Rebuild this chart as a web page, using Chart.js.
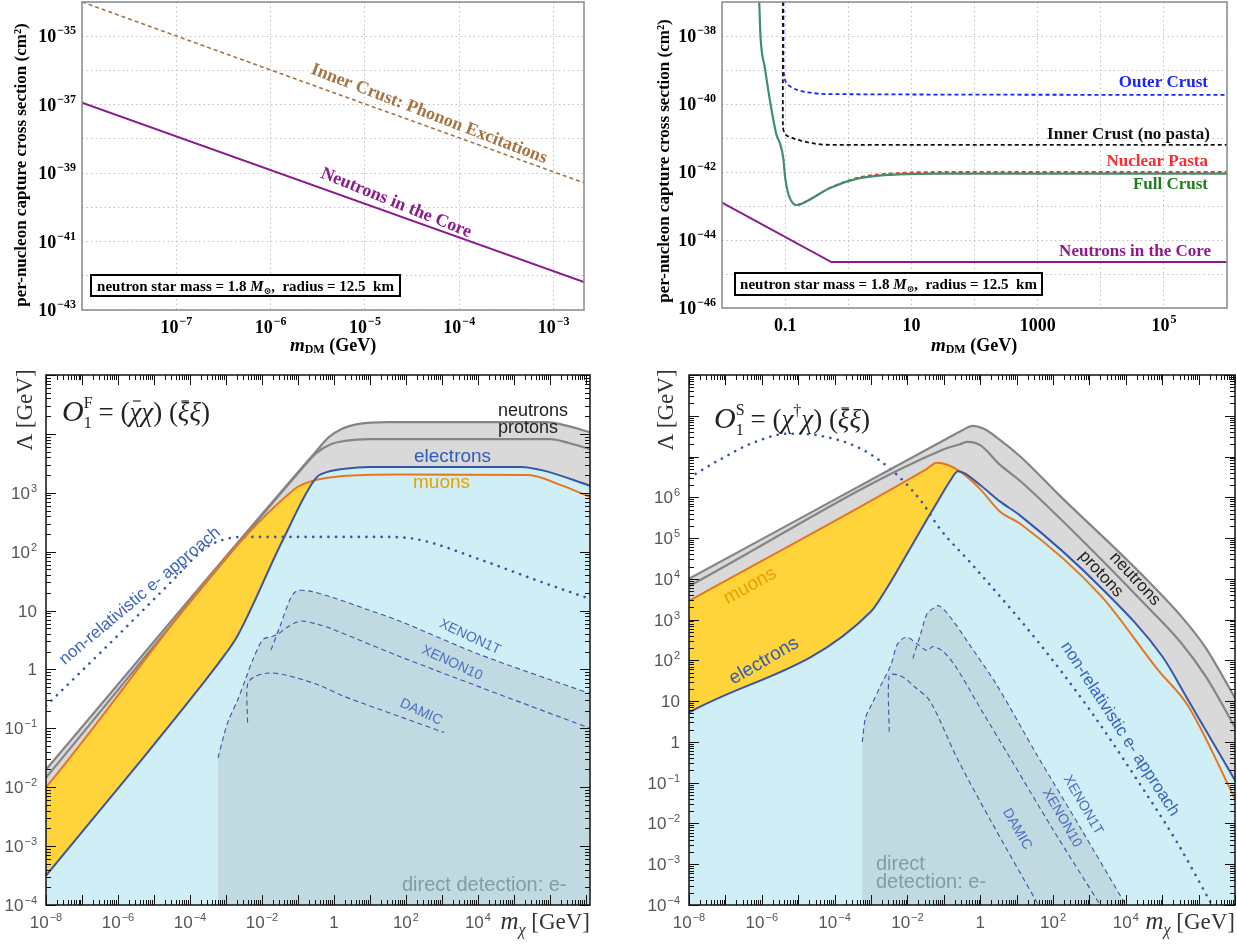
<!DOCTYPE html>
<html>
<head>
<meta charset="utf-8">
<title>Dark matter capture and EFT bounds</title>
<script src="https://cdn.jsdelivr.net/npm/chart.js@4.4.1/dist/chart.umd.min.js"></script>
<style>
  html, body { margin: 0; padding: 0; background: #fff; }
  body { position: relative; width: 1237px; height: 946px; overflow: hidden; }
  canvas { position: absolute; }
</style>
</head>
<body>
<canvas id="panel-a" width="600" height="360" style="left:0;top:0"></canvas>
<canvas id="panel-b" width="617" height="360" style="left:620px;top:0"></canvas>
<canvas id="panel-c" width="620" height="586" style="left:0;top:360px"></canvas>
<canvas id="panel-d" width="617" height="586" style="left:620px;top:360px"></canvas>
<script>
"use strict";

// Top left: per-nucleon cross section, light DM ------------------------------
const aMass = [1e-8, 2.1e-3];
const aCoreXs = [1.15e-37, 6.6e-43];
const aPhononXs = [1e-34, 5.2e-40];
const aXTicks = [1e-8, 1e-7, 1e-6, 1e-5, 1e-4, 1e-3];
const aXLabels = ["", "10⁻⁷", "10⁻⁶", "10⁻⁵", "10⁻⁴", "10⁻³"];
const aYTicks = [1e-43, 1e-42, 1e-41, 1e-40, 1e-39, 1e-38, 1e-37, 1e-36, 1e-35, 1e-34];
const aYLabels = ["10⁻⁴³", "", "10⁻⁴¹", "", "10⁻³⁹", "", "10⁻³⁷", "", "10⁻³⁵", ""];

// Top right: crust layers vs core --------------------------------------------
const bCoreMass = [0.01, 0.54, 1e6];
const bCoreXs = [1.26e-43, 2.24e-45, 2.24e-45];
const bOuterMass = [0.094, 0.094, 0.096, 0.1, 0.107, 0.12, 0.155, 0.25, 0.51, 1e6];
const bOuterXs = [1e-37, 1e-39, 7e-40, 5e-40, 4e-40, 3.3e-40, 2.6e-40, 2.15e-40, 1.95e-40, 1.86e-40];
const bInnerMass = [0.092, 0.092, 0.095, 0.1, 0.12, 0.25, 0.51, 3.2, 1e6];
const bInnerXs = [1e-37, 2e-41, 1.6e-41, 1.3e-41, 1.07e-41, 7.2e-42, 6.3e-42, 6.3e-42, 6.3e-42];
const bPastaMass = [0.155, 0.224, 0.513, 1.51, 6.3, 31.6, 1e6];
const bPastaXs = [1.07e-43, 1.41e-43, 3.4e-43, 7e-43, 9.3e-43, 1e-42, 1e-42];
const bFullMass = [0.0389, 0.0407, 0.0479, 0.0575, 0.0724, 0.0832, 0.0933, 0.1, 0.112, 0.135, 0.155, 0.224, 0.513, 1.51, 6.3, 31.6, 1e6];
const bFullXs = [1e-37, 1e-38, 1.12e-39, 1.26e-40, 1.32e-41, 6.8e-42, 2.63e-42, 6.9e-43, 2.34e-43, 1.17e-43, 1.07e-43, 1.41e-43, 3.4e-43, 6.6e-43, 8.5e-43, 8.9e-43, 8.9e-43];
const bXTicks = [0.01, 0.1, 1, 10, 100, 1000, 1e4, 1e5, 1e6];
const bXLabels = ["", "0.1", "", "10", "", "1000", "", "10⁵", ""];
const bYTicks = [1e-46, 1e-45, 1e-44, 1e-43, 1e-42, 1e-41, 1e-40, 1e-39, 1e-38, 1e-37];
const bYLabels = ["10⁻⁴⁶", "", "10⁻⁴⁴", "", "10⁻⁴²", "", "10⁻⁴⁰", "", "10⁻³⁸", ""];

// Bottom left: fermion operator ------------------------------------------------
const cNeutronMass = [1e-8, 0.316, 0.708, 1.585, 5.01, 31.6, 7.94e5, 2.51e6, 1.3e7];
const cNeutronScale = [0.02, 5010, 8710, 1.2e4, 1.48e4, 1.585e4, 1.585e4, 1.41e4, 1.07e4];
const cProtonMass = [1e-8, 0.158, 0.316, 0.794, 2.0, 10, 1e6, 3.16e6, 1.3e7];
const cProtonScale = [0.0145, 2950, 4680, 6610, 7590, 8130, 8130, 7080, 5500];
const cElectronMass = [1e-8, 5.01e-6, 1.9e-4, 9.33e-4, 2.04e-3, 0.038, 0.316, 0.631, 2.0, 10, 1.585e5, 6.31e5, 1.3e7];
const cElectronScale = [3.16e-4, 0.0316, 0.501, 1.78, 3.63, 158, 1780, 2240, 2570, 2750, 2750, 2400, 1320];
const cMuonMass = [1e-8, 0.0794, 0.251, 1.585, 63.1, 2.51e5, 2.0e6, 1.3e7];
const cMuonScale = [0.01, 1150, 1585, 1905, 2040, 2000, 1350, 851];
const cNonRelMass = [1e-8, 1e-6, 3.16e-5, 2.51e-4, 7.94e-4, 3.16e-3, 31.6, 251, 1e4, 5.01e5, 1.3e7];
const cNonRelScale = [0.24, 3.8, 31.6, 112, 158, 178, 178, 158, 75.9, 31.6, 15.8];
const cXe1tMass = [0.0178, 0.0316, 0.0603, 0.0912, 0.214, 0.933, 8.13, 67.6, 1.15e4, 1.3e7];
const cXe1tScale = [2.14, 5.37, 15.5, 21.4, 21.4, 16.6, 10.5, 6.61, 1.78, 0.389];
const cXe10Mass = [6.03e-4, 8.91e-4, 1.15e-3, 2.14e-3, 3.55e-3, 5.62e-3, 0.0107, 0.0191, 0.0282, 0.049, 0.115, 0.339, 0.933, 67.6, 1.15e4, 1.3e7];
const cXe10Scale = [0.0316, 0.0794, 0.132, 0.309, 0.708, 1.48, 3.24, 3.63, 3.98, 5.13, 6.61, 5.89, 4.79, 1.66, 0.501, 0.1];
const cDamicMass = [3.98e-3, 3.98e-3, 6.31e-3, 0.0158, 0.0501, 0.398, 1.78, 67.6, 1150];
const cDamicScale = [0.126, 0.562, 0.759, 0.871, 0.794, 0.537, 0.355, 0.158, 0.0851];
const cReachMass = [6.03e-4, 6.03e-4, 8.91e-4, 1.15e-3, 2.14e-3, 3.55e-3, 5.62e-3, 0.0107, 0.0191, 0.0316, 0.0603, 0.0912, 0.214, 0.933, 8.13, 67.6, 1.15e4, 1.3e7];
const cReachScale = [1e-4, 0.0316, 0.0794, 0.132, 0.309, 0.708, 1.48, 3.24, 3.63, 5.37, 15.5, 21.4, 21.4, 16.6, 10.5, 6.61, 1.78, 0.389];
const cXTicks = [1e-8, 1e-6, 1e-4, 1e-2, 1, 1e2, 1e4];
const cXLabels = ["10⁻⁸", "10⁻⁶", "10⁻⁴", "10⁻²", "1", "10²", "10⁴"];
const cYTicks = [1e-4, 1e-3, 1e-2, 1e-1, 1, 10, 100, 1000];
const cYLabels = ["10⁻⁴", "10⁻³", "10⁻²", "10⁻¹", "1", "10", "10²", "10³"];

// Bottom right: scalar operator ------------------------------------------------
const dNeutronMass = [1e-8, 0.1, 0.316, 0.631, 1.26, 3.47, 12.6, 158, 2.51e4, 3.98e5, 1.585e6, 1e7];
const dNeutronScale = [1e4, 2.51e7, 4.37e7, 5.62e7, 4.79e7, 2.57e7, 1e7, 1.07e6, 1.38e4, 1000, 200, 12];
const dProtonMass = [1e-8, 0.1, 0.282, 0.437, 1, 3.47, 12.6, 1995, 3.16e4, 3.16e5, 1.585e6, 1e7];
const dProtonScale = [6610, 1.51e7, 2e7, 2.29e7, 1.9e7, 6.31e6, 2.51e6, 3.16e4, 2510, 282, 39.8, 2.29];
const dElectronMass = [1e-8, 1e-3, 2.51e-3, 6.31e-3, 0.0347, 0.0794, 0.148, 0.245, 0.355, 1, 3.47, 12.6, 1995, 1e5, 5.01e5, 1e7];
const dElectronScale = [5.25, 1585, 5250, 2.09e4, 2.88e5, 1e6, 2.51e6, 4.37e6, 3.98e6, 2e6, 7.94e5, 3.55e5, 6310, 126, 11.2, 0.115];
const dMuonMass = [1e-8, 0.0316, 0.0646, 0.126, 0.316, 1, 3.47, 12.6, 1995, 7.94e4, 5.01e5, 1e7];
const dMuonScale = [2880, 4.79e6, 7.08e6, 6.31e6, 3.98e6, 1.585e6, 4.47e5, 2.24e5, 3980, 56.2, 7.94, 0.0407];
const dNonRelMass = [1e-8, 7.24e-8, 5.5e-7, 5.37e-6, 3.98e-5, 5.01e-4, 3.8e-3, 0.0224, 0.0794, 0.525, 36.3, 1000, 2.51e4, 2.51e5, 2.34e6];
const dNonRelScale = [3.02e6, 8.51e6, 2.14e7, 3.63e7, 3.24e7, 1.585e7, 4.57e6, 8.71e5, 1.66e5, 2.57e4, 309, 6.31, 0.0891, 3.55e-3, 1e-4];
const dXe1tMass = [0.0141, 0.0224, 0.0347, 0.0501, 0.0741, 0.148, 0.525, 2.88, 36.3, 562, 1e4];
const dXe1tScale = [112, 407, 1413, 1862, 2188, 1175, 234, 24.5, 0.479, 7.94e-3, 1e-4];
const dXe10Mass = [5.75e-4, 7.08e-4, 1.07e-3, 1.78e-3, 3.55e-3, 5.13e-3, 7.59e-3, 0.0105, 0.0182, 0.0347, 0.0501, 0.0955, 0.229, 1, 6.61, 100, 1995];
const dXe10Scale = [1, 3.98, 8.71, 22.4, 79.4, 234, 347, 363, 257, 174, 219, 166, 63.1, 6.76, 0.407, 7.08e-3, 1e-4];
const dDamicMass = [3.16e-3, 3.16e-3, 5.13e-3, 8.91e-3, 0.0141, 0.0417, 0.229, 2.0, 39.8];
const dDamicScale = [1.78, 42.7, 44.7, 35.5, 24.5, 10, 0.407, 0.0112, 1e-4];
const dReachMass = [5.75e-4, 5.75e-4, 7.08e-4, 1.07e-3, 1.78e-3, 3.55e-3, 5.13e-3, 7.59e-3, 0.0105, 0.0182, 0.0224, 0.0347, 0.0501, 0.0741, 0.148, 0.525, 2.88, 36.3, 562, 1e4];
const dReachScale = [1e-4, 1, 3.98, 8.71, 22.4, 79.4, 234, 347, 363, 257, 407, 1413, 1862, 2188, 1175, 234, 24.5, 0.479, 7.94e-3, 1e-4];
const dXTicks = cXTicks;
const dXLabels = cXLabels;
const dYTicks = [1e-4, 1e-3, 1e-2, 1e-1, 1, 10, 100, 1000, 1e4, 1e5, 1e6];
const dYLabels = ["10⁻⁴", "10⁻³", "10⁻²", "10⁻¹", "1", "10", "10²", "10³", "10⁴", "10⁵", "10⁶"];

// Styles ---------------------------------------------------------------------
const SERIF = '"Liberation Serif", "DejaVu Serif", serif';
const SANS = '"Liberation Sans", Arial, sans-serif';
const PURPLE = "#8c1a8c";
const BROWN = "#a47444";
const GRAY_FILL = "#d9d9d9";
const GRAY_LINE = "#858585";
const YELLOW = "#ffd43a";
const ORANGE = "#e8761c";
const SKY = "#cfeef6";
const BLUE = "#3b55a6";
const REACH = "#c1d9e0";

Chart.defaults.animation = false;
Chart.defaults.font.family = SANS;

function series(mass, vals, style) {
  return Object.assign({
    data: mass.map((m, i) => ({ x: m, y: vals[i] })),
    pointRadius: 0,
    fill: false,
    cubicInterpolationMode: "monotone",
    borderWidth: 2,
  }, style);
}

function logAxis(o, horizontal) {
  return {
    type: "logarithmic",
    min: o.min,
    max: o.max,
    afterBuildTicks: (s) => { s.ticks = o.ticks.map((v) => ({ value: v })); },
    afterFit: (s) => {
      if (horizontal) s.height = o.size; else s.width = o.size;
      s.paddingTop = s.paddingBottom = s.paddingLeft = s.paddingRight = 0;
    },
    ticks: { display: false, autoSkip: false, maxRotation: 0, minRotation: 0 },
    grid: o.grid
      ? { display: true, color: "#c2c2c2", lineWidth: 1, drawTicks: false }
      : { display: false, drawTicks: false },
    border: { display: false, dash: [1.5, 3] },
  };
}

function options(pad, x, y) {
  return {
    responsive: false,
    animation: false,
    layout: { padding: pad },
    plugins: { legend: { display: false }, tooltip: { enabled: false }, filler: { drawTime: "beforeDatasetsDraw" } },
    scales: { x: logAxis(x, true), y: logAxis(y, false) },
  };
}

// Tick labels: base plus raised exponent, placed with the chart's own scales.
const SUPMAP = { "⁻": "−", "⁰": "0", "¹": "1", "²": "2", "³": "3", "⁴": "4", "⁵": "5", "⁶": "6", "⁷": "7", "⁸": "8", "⁹": "9" };
function splitLabel(s) {
  let base = "", exp = "";
  for (const ch of s) { if (SUPMAP[ch]) exp += SUPMAP[ch]; else base += ch; }
  return [base, exp];
}
function tickLabels(st) {
  return {
    id: "tickLabels",
    afterDraw(chart) {
      const { ctx, chartArea: a, scales } = chart;
      ctx.save();
      ctx.fillStyle = st.color;
      ctx.textBaseline = "alphabetic";
      ctx.textAlign = "left";
      for (const [id, horiz] of [["x", true], ["y", false]]) {
        const sc = scales[id];
        const labels = st[id];
        sc.ticks.forEach((t, i) => {
          const text = labels[i];
          if (!text) return;
          const [base, exp] = splitLabel(text);
          ctx.font = st.big;
          const wb = ctx.measureText(base).width;
          ctx.font = st.small;
          const we = exp ? ctx.measureText(exp).width + 1 : 0;
          const p = sc.getPixelForValue(t.value);
          const w = wb + we;
          const x0 = horiz ? p - w / 2 : a.left - st.yPad - w;
          const yb = horiz ? a.bottom + st.xOff : p + st.yOff;
          ctx.font = st.big;
          ctx.fillText(base, x0, yb);
          if (exp) { ctx.font = st.small; ctx.fillText(exp, x0 + wb + 1, yb - st.rise); }
        });
      }
      ctx.restore();
    },
  };
}
const TOP_TICKS = { big: "bold 18px " + SERIF, small: "bold 12px " + SERIF, rise: 8, color: "#000", xOff: 23, yPad: 6, yOff: 6 };
const BOT_TICKS = { big: "17px " + SANS, small: "11px " + SANS, rise: 7, color: "#555", xOff: 23, yPad: 9, yOff: 6 };

// Text helpers ---------------------------------------------------------------
function rotText(ctx, text, x, y, ang, font, color, align) {
  ctx.save();
  ctx.translate(x, y);
  ctx.rotate(ang * Math.PI / 180);
  ctx.font = font;
  ctx.fillStyle = color;
  ctx.textAlign = align || "center";
  ctx.textBaseline = "middle";
  ctx.fillText(text, 0, 0);
  ctx.restore();
}

// parts: [text, font, dy, noAdvance, overbar]
function rich(ctx, x, y, parts, align, color) {
  ctx.save();
  ctx.textBaseline = "alphabetic";
  ctx.textAlign = "left";
  ctx.fillStyle = color || "#000";
  let w = 0;
  for (const p of parts) { ctx.font = p[1]; if (!p[3]) w += ctx.measureText(p[0]).width; }
  let cx = align === "right" ? x - w : align === "center" ? x - w / 2 : x;
  for (const p of parts) {
    ctx.font = p[1];
    const pw = ctx.measureText(p[0]).width;
    ctx.fillText(p[0], cx, y + (p[2] || 0));
    if (p[4]) {
      ctx.strokeStyle = ctx.fillStyle;
      ctx.lineWidth = 1.2;
      ctx.beginPath();
      ctx.moveTo(cx + pw * 0.3, y - p[4]);
      ctx.lineTo(cx + pw * 0.95, y - p[4]);
      ctx.stroke();
    }
    if (!p[3]) cx += pw;
  }
  ctx.restore();
}

const topFrame = {
  id: "topFrame",
  afterDatasetsDraw(chart) {
    const { ctx, chartArea: a } = chart;
    ctx.save();
    ctx.strokeStyle = "#8a8a8a";
    ctx.lineWidth = 1.5;
    ctx.strokeRect(a.left, a.top, a.width, a.height);
    ctx.restore();
  },
};

const tickFrame = {
  id: "tickFrame",
  afterDatasetsDraw(chart) {
    const { ctx, chartArea: a, scales } = chart;
    const sx = scales.x, sy = scales.y;
    ctx.save();
    ctx.strokeStyle = "#111";
    ctx.lineWidth = 1;
    const seg = (x1, y1, x2, y2) => { ctx.beginPath(); ctx.moveTo(x1, y1); ctx.lineTo(x2, y2); ctx.stroke(); };
    for (let e = Math.floor(Math.log10(sx.min)); e <= Math.ceil(Math.log10(sx.max)); e++) {
      for (let k = 1; k < 10; k++) {
        const v = k * Math.pow(10, e);
        if (v < sx.min * 0.999 || v > sx.max * 1.001) continue;
        const p = Math.round(sx.getPixelForValue(v)) + 0.5;
        const len = k === 1 ? 10 : 5;
        seg(p, a.bottom, p, a.bottom - len);
        seg(p, a.top, p, a.top + len);
      }
    }
    for (let e = Math.floor(Math.log10(sy.min)); e <= Math.ceil(Math.log10(sy.max)); e++) {
      for (let k = 1; k < 10; k++) {
        const v = k * Math.pow(10, e);
        if (v < sy.min * 0.999 || v > sy.max * 1.001) continue;
        const p = Math.round(sy.getPixelForValue(v)) + 0.5;
        const len = k === 1 ? 10 : 5;
        seg(a.left, p, a.left + len, p);
        seg(a.right, p, a.right - len, p);
      }
    }
    ctx.lineWidth = 1.5;
    ctx.strokeRect(a.left, a.top, a.width, a.height);
    ctx.restore();
  },
};

function annotate(id, fn) {
  return { id, afterDraw: (chart) => fn(chart.ctx, chart) };
}

function nsBox(ctx, x, y, w, h) {
  ctx.save();
  ctx.fillStyle = "#fff";
  ctx.fillRect(x, y, w, h);
  ctx.strokeStyle = "#000";
  ctx.lineWidth = 2;
  ctx.strokeRect(x, y, w, h);
  ctx.restore();
  const b = "bold 15px " + SERIF;
  rich(ctx, x + w / 2, y + h / 2 + 5, [
    ["neutron star mass = 1.8 ", b],
    ["M", "bold italic 15px " + SERIF],
    ["⊙", "bold 9px " + SERIF, 3],
    [",  radius = 12.5  km", b],
  ], "center");
}

function topTitles(ctx, yx, yy, xx) {
  rotText(ctx, "per-nucleon capture cross section (cm²)", yx, yy, -90, "bold 17px " + SERIF, "#000");
  rich(ctx, xx, 351, [
    ["m", "bold italic 19px " + SERIF],
    ["DM", "bold 12px " + SERIF, 2],
    [" (GeV)", "bold 18px " + SERIF],
  ], "center");
}

// Panel A --------------------------------------------------------------------
new Chart(document.getElementById("panel-a"), {
  type: "line",
  data: {
    datasets: [
      series(aMass, aCoreXs, { borderColor: PURPLE, borderWidth: 2 }),
      series(aMass, aPhononXs, { borderColor: BROWN, borderWidth: 1.6, borderDash: [4, 3] }),
    ],
  },
  options: options({ left: 0, right: 16, top: 2, bottom: 0 },
    { min: 1e-8, max: 2.1e-3, ticks: aXTicks, size: 50, grid: true },
    { min: 1e-43, max: 1e-34, ticks: aYTicks, size: 82, grid: true }),
  plugins: [topFrame, tickLabels(Object.assign({ x: aXLabels, y: aYLabels }, TOP_TICKS)), annotate("textA", (ctx) => {
    topTitles(ctx, 22, 165, 333);
    rotText(ctx, "Inner Crust: Phonon Excitations", 429, 114, 21, "bold 18px " + SERIF, BROWN);
    rotText(ctx, "Neutrons in the Core", 396, 203, 22, "bold 18px " + SERIF, PURPLE);
    nsBox(ctx, 91, 275, 309, 21);
  })],
});

// Panel B --------------------------------------------------------------------
new Chart(document.getElementById("panel-b"), {
  type: "line",
  data: {
    datasets: [
      series(bFullMass, bFullXs, { borderColor: "#3f8f6c", borderWidth: 2.2 }),
      series(bPastaMass, bPastaXs, { borderColor: "#ff2a2a", borderWidth: 1.8, borderDash: [4, 3] }),
      series(bInnerMass, bInnerXs, { borderColor: "#111", borderWidth: 1.8, borderDash: [4, 3] }),
      series(bOuterMass, bOuterXs, { borderColor: "#1a22ff", borderWidth: 1.8, borderDash: [4, 3] }),
      series(bCoreMass, bCoreXs, { borderColor: PURPLE, borderWidth: 2, cubicInterpolationMode: "default", tension: 0 }),
    ],
  },
  options: options({ left: 0, right: 10, top: 2, bottom: 0 },
    { min: 0.01, max: 1e6, ticks: bXTicks, size: 52, grid: true },
    { min: 1e-46, max: 1e-37, ticks: bYTicks, size: 102, grid: true }),
  plugins: [topFrame, tickLabels(Object.assign({ x: bXLabels, y: bYLabels }, TOP_TICKS)), annotate("textB", (ctx) => {
    topTitles(ctx, 45, 161, 354);
    const f = "bold 17px " + SERIF;
    rotText(ctx, "Outer Crust", 588, 83, 0, f, "#1a22ff", "right");
    rotText(ctx, "Inner Crust (no pasta)", 590, 135, 0, f, "#111", "right");
    rotText(ctx, "Nuclear Pasta", 588, 162, 0, f, "#ff2a2a", "right");
    rotText(ctx, "Full Crust", 588, 185, 0, f, "#1f7f1f", "right");
    rotText(ctx, "Neutrons in the Core", 591, 252, 0, f, PURPLE, "right");
    nsBox(ctx, 115, 273, 307, 22);
  })],
});

// Bottom panels ----------------------------------------------------------------
function eftDatasets(p) {
  return [
    series(p.reachM, p.reachL, { borderWidth: 0, borderColor: "rgba(0,0,0,0)", backgroundColor: REACH, fill: "start", cubicInterpolationMode: "default", tension: 0.25 }),
    series(p.eM, p.eL, { borderColor: BLUE, borderWidth: 2, backgroundColor: SKY, fill: "start" }),
    series(p.muM, p.muL, { borderColor: ORANGE, borderWidth: 2, backgroundColor: YELLOW, fill: "start" }),
    series(p.nM, p.nL, { borderColor: GRAY_LINE, borderWidth: 2.2, backgroundColor: GRAY_FILL, fill: "start" }),
    series(p.pM, p.pL, { borderColor: GRAY_LINE, borderWidth: 2.2 }),
    series(p.x1M, p.x1L, { borderColor: BLUE, borderWidth: 1.1, borderDash: [5, 3.5], cubicInterpolationMode: "default", tension: 0.3 }),
    series(p.x10M, p.x10L, { borderColor: BLUE, borderWidth: 1.1, borderDash: [5, 3.5], cubicInterpolationMode: "default", tension: 0.3 }),
    series(p.dmM, p.dmL, { borderColor: BLUE, borderWidth: 1.1, borderDash: [5, 3.5], cubicInterpolationMode: "default", tension: 0.3 }),
    series(p.nrM, p.nrL, { borderColor: BLUE, borderWidth: 2.6, borderDash: [0.1, 7.5], borderCapStyle: "round" }),
  ];
}

function bottomTitles(ctx, lx, right) {
  rotText(ctx, "Λ [GeV]", lx, 50, -90, "23px " + SERIF, "#333");
  rich(ctx, right, 569, [
    ["m", "italic 25px " + SERIF],
    ["χ", "italic 16px " + SERIF, 6],
    [" [GeV]", "23px " + SERIF],
  ], "right", "#333");
}

function formula(ctx, x, y, letter, lhsInner) {
  const big = "27px " + SERIF, it = "italic 27px " + SERIF, sm = "16px " + SERIF;
  const parts = [
    ["O", "italic 30px " + SERIF],
    [letter, sm, -13, true],
    ["1", sm, 7],
    [" = (", big],
  ].concat(lhsInner, [
    [") (", big],
    ["ξ", it, 0, false, 20],
    ["ξ", it],
    [")", big],
  ]);
  rich(ctx, x, y, parts, "left", "#222");
}

new Chart(document.getElementById("panel-c"), {
  type: "line",
  data: {
    datasets: eftDatasets({
      reachM: cReachMass, reachL: cReachScale, eM: cElectronMass, eL: cElectronScale,
      muM: cMuonMass, muL: cMuonScale, nM: cNeutronMass, nL: cNeutronScale,
      pM: cProtonMass, pL: cProtonScale, x1M: cXe1tMass, x1L: cXe1tScale,
      x10M: cXe10Mass, x10L: cXe10Scale, dmM: cDamicMass, dmL: cDamicScale,
      nrM: cNonRelMass, nrL: cNonRelScale,
    }),
  },
  options: options({ left: 0, right: 30, top: 15, bottom: 0 },
    { min: 1e-8, max: 1.3e7, ticks: cXTicks, size: 41 },
    { min: 1e-4, max: 1e5, ticks: cYTicks, size: 46 }),
  plugins: [tickFrame, tickLabels(Object.assign({ x: cXLabels, y: cYLabels }, BOT_TICKS)), annotate("textC", (ctx) => {
    bottomTitles(ctx, 26, 590);
    formula(ctx, 62, 61, "F", [["χ", "italic 27px " + SERIF, 0, false, 20], ["χ", "italic 27px " + SERIF]]);
    const s = "18px " + SANS;
    rotText(ctx, "neutrons", 498, 51, 0, s, "#222", "left");
    rotText(ctx, "protons", 498, 68, 0, s, "#222", "left");
    rotText(ctx, "electrons", 414, 97, 0, "19px " + SANS, "#2f5cb8", "left");
    rotText(ctx, "muons", 413, 123, 0, "19px " + SANS, "#e8a000", "left");
    rotText(ctx, "non-relativistic e- approach", 140, 236, -40, "17px " + SANS, "#3a63c0");
    rotText(ctx, "XENON1T", 470, 277, 25, "14px " + SANS, "#4a6fc0");
    rotText(ctx, "XENON10", 452, 303, 25, "14px " + SANS, "#4a6fc0");
    rotText(ctx, "DAMIC", 421, 352, 25, "14px " + SANS, "#4a6fc0");
    rotText(ctx, "direct detection: e-", 402, 525, 0, "20px " + SANS, "#7d9ea7", "left");
  })],
});

new Chart(document.getElementById("panel-d"), {
  type: "line",
  data: {
    datasets: eftDatasets({
      reachM: dReachMass, reachL: dReachScale, eM: dElectronMass, eL: dElectronScale,
      muM: dMuonMass, muL: dMuonScale, nM: dNeutronMass, nL: dNeutronScale,
      pM: dProtonMass, pL: dProtonScale, x1M: dXe1tMass, x1L: dXe1tScale,
      x10M: dXe10Mass, x10L: dXe10Scale, dmM: dDamicMass, dmL: dDamicScale,
      nrM: dNonRelMass, nrL: dNonRelScale,
    }),
  },
  options: options({ left: 0, right: 2, top: 15, bottom: 0 },
    { min: 1e-8, max: 1e7, ticks: dXTicks, size: 41 },
    { min: 1e-4, max: 1e9, ticks: dYTicks, size: 69 }),
  plugins: [tickFrame, tickLabels(Object.assign({ x: dXLabels, y: dYLabels }, BOT_TICKS)), annotate("textD", (ctx) => {
    bottomTitles(ctx, 47, 615);
    formula(ctx, 94, 68, "S", [["χ", "italic 27px " + SERIF], ["†", "16px " + SERIF, -12], ["χ", "italic 27px " + SERIF]]);
    const s = "17px " + SANS;
    rotText(ctx, "neutrons", 515, 219, 47, s, "#222");
    rotText(ctx, "protons", 481, 214, 47, s, "#222");
    rotText(ctx, "muons", 130, 226, -29, "19px " + SANS, "#e8a000");
    rotText(ctx, "electrons", 144, 301, -30, "19px " + SANS, "#2f5cb8");
    rotText(ctx, "non-relativistic e- approach", 500, 369, 57, "17px " + SANS, "#3a63c0");
    rotText(ctx, "XENON1T", 463, 445, 60, "14px " + SANS, "#4a6fc0");
    rotText(ctx, "XENON10", 442, 458, 60, "14px " + SANS, "#4a6fc0");
    rotText(ctx, "DAMIC", 397, 469, 60, "14px " + SANS, "#4a6fc0");
    rotText(ctx, "direct", 256, 504, 0, "20px " + SANS, "#7d9ea7", "left");
    rotText(ctx, "detection: e-", 256, 522, 0, "20px " + SANS, "#7d9ea7", "left");
  })],
});
</script>
</body>
</html>
